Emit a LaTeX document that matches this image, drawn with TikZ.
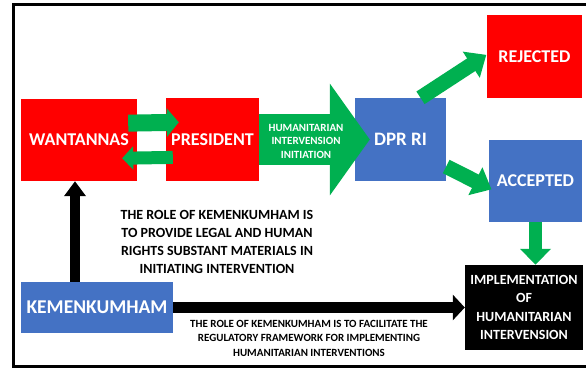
\documentclass[tikz,border=0pt]{standalone}
\usepackage{fontspec}
\setmainfont{Carlito}
\usetikzlibrary{arrows.meta,calc}

\definecolor{boxred}{RGB}{255,0,0}
\definecolor{boxblue}{RGB}{68,114,196}
\definecolor{arrowgreen}{RGB}{0,176,80}

\tikzset{
	block/.style={rectangle, inner sep=0pt, text=white, font=\bfseries\fontsize{18}{20}\selectfont},
	redblock/.style={block, fill=boxred},
	blueblock/.style={block, fill=boxblue},
	greenarrow/.style={draw=arrowgreen, color=arrowgreen},
	blackarrow/.style={draw=black},
	roletext/.style={align=center, inner sep=0pt, font=\bfseries\fontsize{#1}{#1}\selectfont},
}

\begin{document}
\begin{tikzpicture}[x=1pt, y=-1pt]
		%%%%% START %%%%%
		\useasboundingbox (0, 0) rectangle (586, 369);
		\fill[white] (0, 0) rectangle (586, 369);
		\draw[line width=3pt] (13, 5) rectangle (590, 366);
		
		\node[redblock, minimum width=116pt, minimum height=82pt] (wantannas) at (79, 140) {WANTANNAS};
		\node[redblock, minimum width=93pt, minimum height=83pt] (president) at (212.5, 139.5) {PRESIDENT};
		\node[blueblock, minimum width=91pt, minimum height=83pt, font=\bfseries\fontsize{19}{20}\selectfont] (dpr) at (400.5, 139.5) {DPR RI};
		\node[redblock, minimum width=95pt, minimum height=83pt] (rejected) at (534.5, 56.5) {REJECTED};
		\node[blueblock, minimum width=93pt, minimum height=82pt] (accepted) at (535.5, 181) {ACCEPTED};
		\node[block, fill=black, minimum width=118pt, minimum height=85pt, align=center, font=\bfseries\fontsize{14}{18.5}\selectfont] (implementation) at (524, 307.5) {IMPLEMENTATION\\OF\\HUMANITARIAN\\INTERVENSION};
		\node[blueblock, minimum width=152pt, minimum height=51pt, font=\bfseries\fontsize{19.5}{20}\selectfont] (kemenkumham) at (97, 307.5) {KEMENKUMHAM};
		
		% wantannas <-> president
		\draw[greenarrow, line width=17pt, shorten <=-9pt, shorten >=-13pt, -{Triangle[width=28pt, length=12pt]}] ([yshift=17pt]wantannas.east) -- ([yshift=17pt]president.west);
		\draw[greenarrow, line width=13pt, shorten <=-7pt, shorten >=-15pt, -{Triangle[width=23pt, length=11pt]}] ([yshift=-18pt]president.west) -- ([yshift=-18pt]wantannas.east);
		
		% initiation arrow
		\draw[greenarrow, line width=51pt, shorten >=-15pt, -{Triangle[width=110pt, length=40pt]}] (president.east) -- (dpr.west);
		\node[roletext=11, text=white, font=\bfseries\fontsize{11}{13.5}\selectfont] (initiation) at (306, 141) {HUMANITARIAN\\INTERVENSION\\INITIATION};
		
		% dpr decisions
		\draw[greenarrow, line width=15pt, shorten >=-3pt, -{Triangle[width=30pt, length=18pt]}] ([xshift=20pt]dpr.north) -- ([xshift=-3pt]rejected.west);
		\draw[greenarrow, line width=15pt, shorten >=-3pt, -{Triangle[width=30pt, length=18pt]}] ([yshift=-27pt]dpr.east) -- ([yshift=-7pt]accepted.west);
		\draw[greenarrow, line width=13pt, -{Triangle[width=30pt, length=16pt]}] (accepted.south) -- (accepted.south |- implementation.north);
		
		% kemenkumham roles
		\draw[blackarrow, line width=10pt, -{Triangle[width=21pt, length=15pt]}] ([xshift=-4pt]wantannas.south |- kemenkumham.north) -- ([xshift=-4pt]wantannas.south);
		\draw[blackarrow, line width=11pt, -{Triangle[width=25pt, length=12pt]}] (kemenkumham.east) -- (implementation.west);
		
		\node[roletext=14, font=\bfseries\fontsize{14}{18}\selectfont] (provide) at (217, 242) {THE ROLE OF KEMENKUMHAM IS\\TO PROVIDE LEGAL AND HUMAN\\RIGHTS SUBSTANT MATERIALS IN\\INITIATING INTERVENTION};
		\node[roletext=11, font=\bfseries\fontsize{11}{14.5}\selectfont] (facilitate) at (309, 338) {THE ROLE OF KEMENKUMHAM IS TO FACILITATE THE\\REGULATORY FRAMEWORK FOR IMPLEMENTING\\HUMANITARIAN INTERVENTIONS};
		%%%%% END %%%%%
\end{tikzpicture}
\end{document}
